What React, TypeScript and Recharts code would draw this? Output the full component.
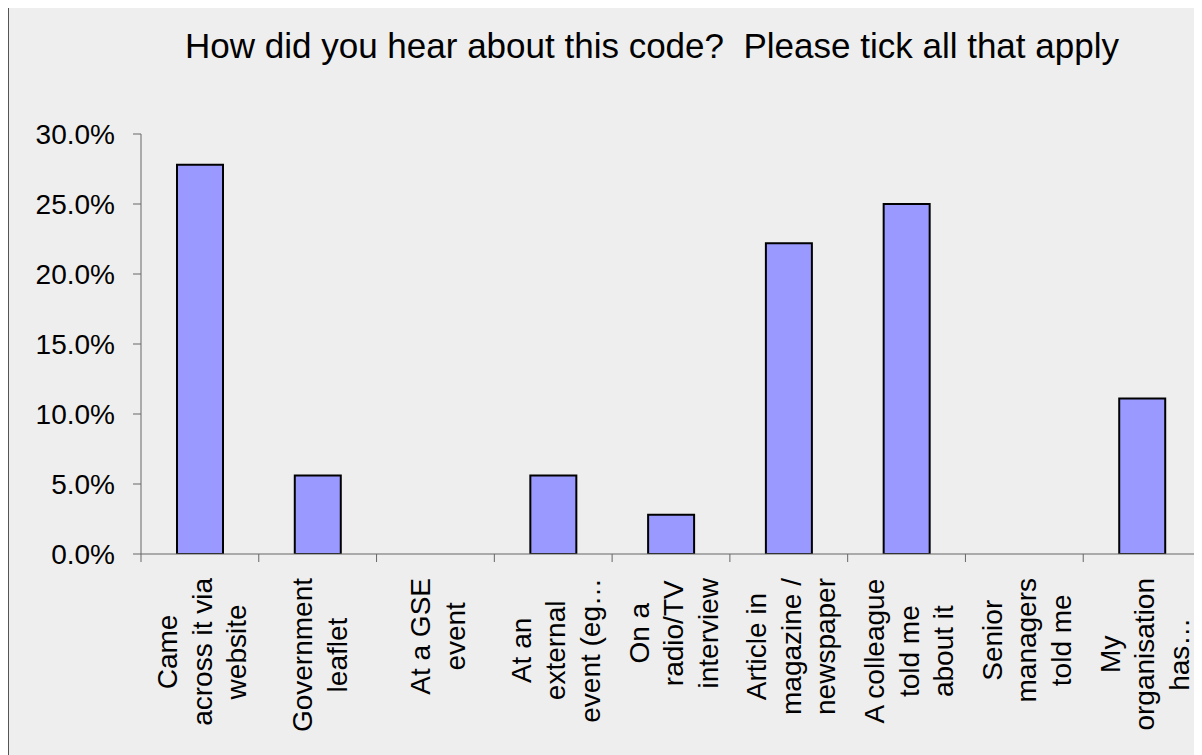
import React from 'react';
import { BarChart, Bar, XAxis, YAxis } from 'recharts';

const title = 'How did you hear about this code?  Please tick all that apply';
const categories = [
  'Came across it via website',
  'Government leaflet',
  'At a GSE event',
  'At an external event (eg…',
  'On a radio/TV interview',
  'Article in magazine / newspaper',
  'A colleague told me about it',
  'Senior managers told me',
  'My organisation has…',
];
const labelLines = [
  ['Came', 'across it via', 'website'],
  ['Government', 'leaflet'],
  ['At a GSE', 'event'],
  ['At an', 'external', 'event (eg…'],
  ['On a', 'radio/TV', 'interview'],
  ['Article in', 'magazine /', 'newspaper'],
  ['A colleague', 'told me', 'about it'],
  ['Senior', 'managers', 'told me'],
  ['My', 'organisation', 'has…'],
];
const percentages = [27.8, 5.6, 0, 5.6, 2.8, 22.2, 25.0, 0, 11.1];
const yTicks = [0, 5, 10, 15, 20, 25, 30];

const data = categories.map((c, i) => ({ name: c, value: percentages[i] }));

const FONT = "Arial, 'Liberation Sans', sans-serif";
const AXIS = '#666666';
const CHART_W = 1200;
const CHART_H = 750;
const MARGIN = { top: 128, right: 8, bottom: 2, left: 0 };
const Y_W = 132;
const X_H = 200;
const PLOT_W = CHART_W - MARGIN.left - MARGIN.right - Y_W;
const LABEL_SIZE = 28;
const LINE_H = 34.5;

let ctx: CanvasRenderingContext2D | null = null;
function measure(s: string): number {
  if (!ctx) {
    const c = document.createElement('canvas');
    ctx = c.getContext('2d');
  }
  if (!ctx) return s.length * LABEL_SIZE * 0.5;
  ctx.font = `${LABEL_SIZE}px ${FONT}`;
  return ctx.measureText(s).width;
}

function XTick(props: any) {
  const { x, y, payload } = props;
  const idx = categories.indexOf(payload.value);
  const lines = labelLines[idx] ?? [String(payload.value)];
  const band = PLOT_W / categories.length;
  const maxW = Math.max(...lines.map(measure));
  const cy = y + 16 + maxW / 2;
  const n = lines.length;
  return (
    <g>
      <line x1={x - band / 2} x2={x - band / 2} y1={y - 8} y2={y} stroke={AXIS} strokeWidth={1} />
      {idx === categories.length - 1 && (
        <line x1={x + band / 2} x2={x + band / 2} y1={y - 8} y2={y} stroke={AXIS} strokeWidth={1} />
      )}
      <g transform={`translate(${x},${cy}) rotate(-90)`}>
        {lines.map((l, i) => (
          <text
            key={i}
            x={0}
            y={(i - (n - 1) / 2) * LINE_H + 12}
            textAnchor="middle"
            fontSize={LABEL_SIZE}
            fontFamily={FONT}
            fill="#000"
          >
            {l}
          </text>
        ))}
      </g>
    </g>
  );
}

export default function App() {
  return (
    <div
      style={{
        position: 'relative',
        marginTop: -3,
        width: CHART_W,
        height: CHART_H,
        border: '1px solid #555',
        background: '#eeeeee',
        fontFamily: FONT,
      }}
    >
      <svg
        width={CHART_W}
        height={100}
        style={{ position: 'absolute', left: 0, top: 0, pointerEvents: 'none' }}
      >
        <text
          x={643}
          y={52}
          textAnchor="middle"
          fontSize={35}
          fontFamily={FONT}
          fill="#000"
          style={{ whiteSpace: 'pre' }}
        >
          {title}
        </text>
      </svg>
      <BarChart width={CHART_W} height={CHART_H} data={data} margin={MARGIN}>
        <XAxis
          dataKey="name"
          height={X_H}
          interval={0}
          tickLine={false}
          tickSize={8}
          tickMargin={0}
          stroke={AXIS}
          tick={<XTick />}
        />
        <YAxis
          width={Y_W}
          domain={[0, 30]}
          ticks={yTicks}
          interval={0}
          allowDataOverflow
          tickSize={8}
          tickMargin={18}
          stroke={AXIS}
          tickFormatter={(v: number) => `${v.toFixed(1)}%`}
          tick={{ fontSize: 28, fill: '#000', fontFamily: FONT }}
        />
        <Bar
          dataKey="value"
          fill="#9999ff"
          stroke="#000"
          strokeWidth={2}
          barSize={46}
          isAnimationActive={false}
        />
      </BarChart>
    </div>
  );
}
